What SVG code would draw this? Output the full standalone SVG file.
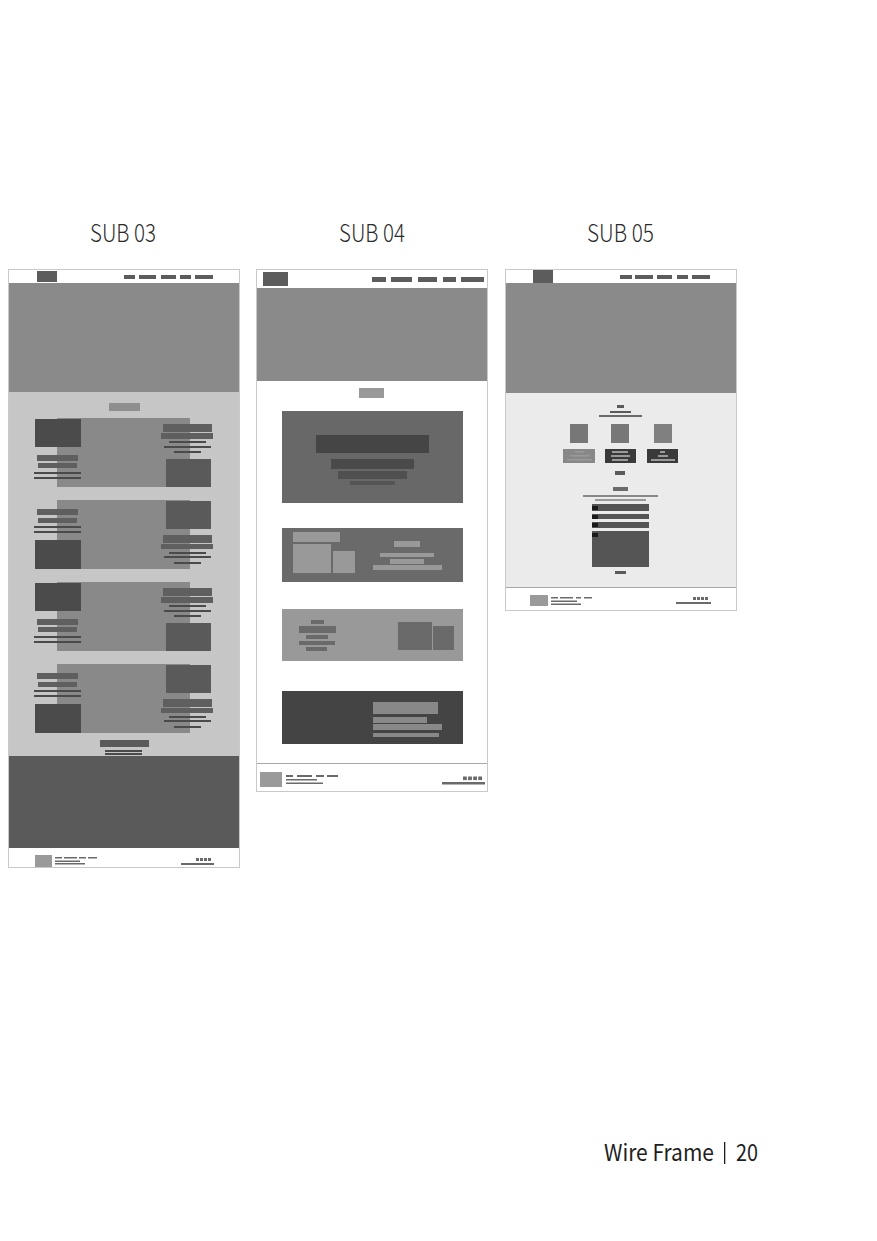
<svg xmlns="http://www.w3.org/2000/svg" xmlns:xlink="http://www.w3.org/1999/xlink" width="877" height="1241" viewBox="0 0 877 1241">
  <style>
    .title { font-family: "Noto Sans CJK SC", "Liberation Sans", sans-serif; font-weight: 300; font-size: 25px; fill: #2a2a2a; }
    .page { font-family: "Noto Sans CJK SC", "Liberation Sans", sans-serif; font-size: 23px; fill: #1e1e1e; }
    .frame { fill: #ffffff; stroke: #c9c9c9; stroke-width: 1; }
    .hero { fill: #8a8a8a; }
    .nav { fill: #5c5c5c; }
    .logo { fill: #5c5c5c; }
    .mid { fill: #898989; }
    .dk { fill: #4b4b4b; }
    .bar { fill: #5f5f5f; }
    .thin { fill: #4a4a4a; }
    .ft-sq { fill: #9a9a9a; }
    .ft { fill: #6a6a6a; }
    .rule { stroke: #a8a8a8; stroke-width: 1; }
  </style>
  <defs>
    <!-- SUB 03 content row: image left-top, image right-bottom -->
    <g id="rowA">
      <rect class="mid" x="57" y="0" width="133" height="69"/>
      <rect class="dk" x="35" y="1" width="46" height="28"/>
      <rect class="bar" x="37" y="37" width="41" height="6"/>
      <rect class="bar" x="38" y="45" width="39" height="5"/>
      <rect class="thin" x="34" y="54" width="47" height="2"/>
      <rect class="thin" x="34" y="59" width="47" height="2"/>
      <rect class="bar" x="163" y="6" width="49" height="8"/>
      <rect class="bar" x="161" y="15" width="52" height="6"/>
      <rect class="thin" x="169" y="23" width="37" height="2"/>
      <rect class="thin" x="164" y="28" width="47" height="2"/>
      <rect class="thin" x="174" y="33" width="27" height="2"/>
      <rect fill="#5a5a5a" x="166" y="41" width="45" height="28"/>
    </g>
    <!-- SUB 03 content row: image right-top, image left-bottom -->
    <g id="rowB">
      <rect class="mid" x="57" y="0" width="133" height="69"/>
      <rect fill="#5a5a5a" x="166" y="1" width="45" height="28"/>
      <rect class="bar" x="37" y="9" width="41" height="6"/>
      <rect class="bar" x="38" y="18" width="39" height="5"/>
      <rect class="thin" x="34" y="26" width="47" height="2"/>
      <rect class="thin" x="34" y="31" width="47" height="2"/>
      <rect class="dk" x="35" y="40" width="46" height="29"/>
      <rect class="bar" x="163" y="35" width="49" height="8"/>
      <rect class="bar" x="161" y="44" width="52" height="5"/>
      <rect class="thin" x="169" y="52" width="37" height="2"/>
      <rect class="thin" x="164" y="56" width="47" height="2"/>
      <rect class="thin" x="174" y="62" width="27" height="2"/>
    </g>
    <!-- footer social icons: four small squares -->
    <g id="icons">
      <rect class="ft" x="0" y="0" width="3" height="3"/>
      <rect class="ft" x="4" y="0" width="3" height="3"/>
      <rect class="ft" x="8" y="0" width="3" height="3"/>
      <rect class="ft" x="12" y="0" width="3" height="3"/>
    </g>
  </defs>

  <!-- headings -->
  <text class="title" x="90" y="242" textLength="66" lengthAdjust="spacingAndGlyphs">SUB 03</text>
  <text class="title" x="339" y="242" textLength="66" lengthAdjust="spacingAndGlyphs">SUB 04</text>
  <text class="title" x="587" y="242" textLength="67" lengthAdjust="spacingAndGlyphs">SUB 05</text>

  <!-- SUB 03 page -->
  <g id="sub03">
    <rect class="frame" x="8.5" y="269.5" width="231" height="598"/>
    <rect class="logo" x="37" y="271" width="20" height="11"/>
    <rect class="nav" x="124" y="275" width="11" height="4"/>
    <rect class="nav" x="139" y="275" width="17" height="4"/>
    <rect class="nav" x="161" y="275" width="15" height="4"/>
    <rect class="nav" x="180" y="275" width="11" height="4"/>
    <rect class="nav" x="195" y="275" width="18" height="4"/>
    <rect class="hero" x="9" y="283" width="230" height="109"/>
    <rect fill="#c6c6c6" x="9" y="392" width="230" height="364"/>
    <rect fill="#8e8e8e" x="109" y="403" width="31" height="8"/>
    <use xlink:href="#rowA" href="#rowA" x="0" y="418"/>
    <use xlink:href="#rowB" href="#rowB" x="0" y="500"/>
    <use xlink:href="#rowA" href="#rowA" x="0" y="582"/>
    <use xlink:href="#rowB" href="#rowB" x="0" y="664"/>
    <rect fill="#5a5a5a" x="100" y="740" width="49" height="7"/>
    <rect class="thin" x="105" y="750" width="37" height="2"/>
    <rect class="thin" x="105" y="753" width="37" height="2"/>
    <rect fill="#5a5a5a" x="9" y="756" width="230" height="92"/>
    <!-- footer -->
    <rect class="ft-sq" x="35" y="855" width="17" height="12"/>
    <rect class="ft" x="55" y="857" width="7" height="1.5"/>
    <rect class="ft" x="64" y="857" width="13" height="1.5"/>
    <rect class="ft" x="79" y="857" width="7" height="1.5"/>
    <rect class="ft" x="88" y="857" width="9" height="1.5"/>
    <rect class="ft" x="55" y="860.5" width="25" height="1.5"/>
    <rect class="ft" x="55" y="863" width="30" height="1.5"/>
    <use xlink:href="#icons" href="#icons" x="196" y="858"/>
    <rect class="ft" x="181" y="863" width="33" height="2"/>
  </g>

  <!-- SUB 04 page -->
  <g id="sub04">
    <rect class="frame" x="256.5" y="269.5" width="231" height="522"/>
    <rect class="logo" x="263" y="272" width="25" height="14"/>
    <rect class="nav" x="372" y="277" width="14" height="5"/>
    <rect class="nav" x="391" y="277" width="21" height="5"/>
    <rect class="nav" x="418" y="277" width="19" height="5"/>
    <rect class="nav" x="443" y="277" width="13" height="5"/>
    <rect class="nav" x="461" y="277" width="23" height="5"/>
    <rect class="hero" x="257" y="288" width="230" height="93"/>
    <rect fill="#999999" x="359" y="388" width="25" height="10"/>
    <!-- panel 1 -->
    <rect fill="#686868" x="282" y="411" width="181" height="92"/>
    <rect fill="#454545" x="316" y="435" width="113" height="18"/>
    <rect fill="#4a4a4a" x="331" y="459" width="83" height="10"/>
    <rect fill="#505050" x="338" y="471" width="69" height="8"/>
    <rect fill="#555555" x="350" y="481" width="45" height="4"/>
    <!-- panel 2 -->
    <rect fill="#6a6a6a" x="282" y="528" width="181" height="54"/>
    <rect fill="#999999" x="293" y="532" width="47" height="10"/>
    <rect fill="#999999" x="293" y="544" width="38" height="29"/>
    <rect fill="#999999" x="333" y="551" width="22" height="22"/>
    <rect fill="#999999" x="394" y="541" width="26" height="6"/>
    <rect fill="#999999" x="380" y="553" width="54" height="4"/>
    <rect fill="#999999" x="390" y="559" width="34" height="5"/>
    <rect fill="#999999" x="373" y="565" width="69" height="5"/>
    <!-- panel 3 -->
    <rect fill="#999999" x="282" y="609" width="181" height="52"/>
    <rect fill="#6a6a6a" x="311" y="620" width="13" height="4"/>
    <rect fill="#6a6a6a" x="299" y="626" width="37" height="7"/>
    <rect fill="#6a6a6a" x="306" y="635" width="22" height="4"/>
    <rect fill="#6a6a6a" x="299" y="641" width="36" height="4"/>
    <rect fill="#6a6a6a" x="306" y="647" width="21" height="4"/>
    <rect fill="#6a6a6a" x="398" y="622" width="34" height="28"/>
    <rect fill="#6a6a6a" x="433" y="626" width="21" height="24"/>
    <!-- panel 4 -->
    <rect fill="#444444" x="282" y="691" width="181" height="53"/>
    <rect fill="#888888" x="373" y="702" width="65" height="12"/>
    <rect fill="#888888" x="373" y="717" width="54" height="6"/>
    <rect fill="#888888" x="373" y="724" width="69" height="6"/>
    <rect fill="#888888" x="373" y="733" width="66" height="4"/>
    <!-- footer -->
    <line class="rule" x1="257" y1="763.5" x2="487" y2="763.5"/>
    <rect class="ft-sq" x="260" y="772" width="22" height="15"/>
    <rect class="ft" x="286" y="775" width="7" height="2"/>
    <rect class="ft" x="297" y="775" width="15" height="2"/>
    <rect class="ft" x="316" y="775" width="8" height="2"/>
    <rect class="ft" x="327" y="775" width="11" height="2"/>
    <rect class="ft" x="286" y="779" width="31" height="1.5"/>
    <rect class="ft" x="286" y="782.5" width="37" height="1.5"/>
    <g transform="translate(463,776.5) scale(1.27,1.2)"><use xlink:href="#icons" href="#icons"/></g>
    <rect class="ft" x="442" y="782" width="43" height="2.5"/>
  </g>

  <!-- SUB 05 page -->
  <g id="sub05">
    <rect class="frame" x="505.5" y="269.5" width="231" height="341"/>
    <rect class="logo" x="533" y="270" width="20" height="13"/>
    <rect class="nav" x="620" y="275" width="12" height="4"/>
    <rect class="nav" x="635" y="275" width="18" height="4"/>
    <rect class="nav" x="657" y="275" width="15" height="4"/>
    <rect class="nav" x="677" y="275" width="11" height="4"/>
    <rect class="nav" x="692" y="275" width="18" height="4"/>
    <rect class="hero" x="506" y="283" width="230" height="110"/>
    <rect fill="#ebebeb" x="506" y="393" width="230" height="194"/>
    <rect fill="#5a5a5a" x="617" y="405" width="7" height="3"/>
    <rect fill="#5a5a5a" x="610" y="411" width="21" height="2"/>
    <rect fill="#6a6a6a" x="599" y="415" width="43" height="2"/>
    <rect fill="#777777" x="570" y="424" width="18" height="19"/>
    <rect fill="#777777" x="611" y="424" width="18" height="19"/>
    <rect fill="#808080" x="654" y="424" width="18" height="19"/>
    <!-- cards -->
    <rect fill="#888888" x="563" y="449" width="32" height="14"/>
    <rect fill="#9a9a9a" x="575" y="451" width="9" height="1.5"/>
    <rect fill="#9a9a9a" x="570" y="455" width="20" height="1.5"/>
    <rect fill="#9a9a9a" x="567" y="459" width="25" height="1.5"/>
    <rect fill="#3a3a3a" x="605" y="449" width="31" height="14"/>
    <rect fill="#9a9a9a" x="612" y="451" width="16" height="2"/>
    <rect fill="#9a9a9a" x="611" y="455" width="19" height="2"/>
    <rect fill="#9a9a9a" x="612" y="459" width="16" height="2"/>
    <rect fill="#3a3a3a" x="647" y="449" width="31" height="14"/>
    <rect fill="#9a9a9a" x="660" y="451" width="5" height="2"/>
    <rect fill="#9a9a9a" x="658" y="455" width="10" height="2"/>
    <rect fill="#9a9a9a" x="651" y="459" width="24" height="2"/>
    <rect fill="#5a5a5a" x="615" y="471" width="10" height="4"/>
    <!-- contact form -->
    <rect fill="#6a6a6a" x="613" y="487" width="15" height="4"/>
    <rect fill="#888888" x="583" y="495" width="75" height="2"/>
    <rect fill="#9a9a9a" x="595" y="499" width="51" height="2"/>
    <rect fill="#555555" x="592" y="504" width="57" height="7"/>
    <rect fill="#555555" x="592" y="514" width="57" height="5"/>
    <rect fill="#555555" x="592" y="522" width="57" height="6"/>
    <rect fill="#555555" x="592" y="531" width="57" height="36"/>
    <rect fill="#1a1a1a" x="592" y="506" width="6" height="4"/>
    <rect fill="#1a1a1a" x="592" y="515" width="6" height="4"/>
    <rect fill="#1a1a1a" x="592" y="523" width="6" height="4"/>
    <rect fill="#1a1a1a" x="592" y="533" width="6" height="4"/>
    <rect fill="#5a5a5a" x="615" y="571" width="11" height="3"/>
    <!-- footer -->
    <line class="rule" x1="506" y1="587.5" x2="736" y2="587.5"/>
    <rect class="ft-sq" x="530" y="595" width="18" height="11"/>
    <rect class="ft" x="551" y="597" width="7" height="1.5"/>
    <rect class="ft" x="560" y="597" width="13" height="1.5"/>
    <rect class="ft" x="576" y="597" width="5" height="1.5"/>
    <rect class="ft" x="584" y="597" width="8" height="1.5"/>
    <rect class="ft" x="551" y="600.5" width="26" height="1.5"/>
    <rect class="ft" x="551" y="603.5" width="30" height="1.5"/>
    <use xlink:href="#icons" href="#icons" x="693" y="597"/>
    <rect class="ft" x="676" y="602" width="35" height="2"/>
  </g>

  <!-- page label -->
  <text class="page" x="604" y="1161" textLength="110" lengthAdjust="spacingAndGlyphs">Wire Frame</text>
  <rect fill="#1e1e1e" x="724" y="1142" width="1.3" height="22"/>
  <text class="page" x="736" y="1161" textLength="22" lengthAdjust="spacingAndGlyphs">20</text>
</svg>
